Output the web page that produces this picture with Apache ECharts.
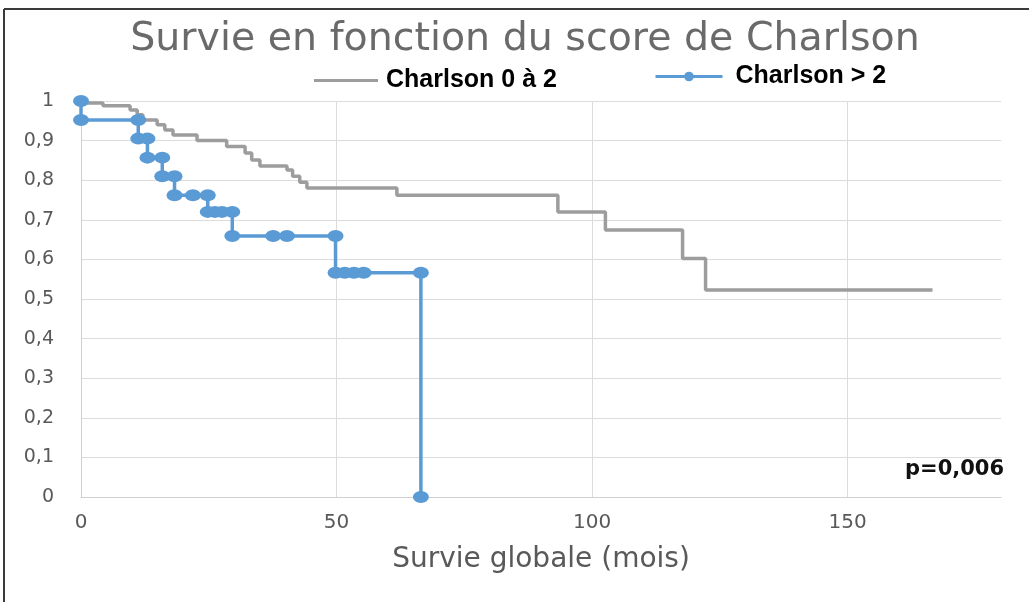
<!DOCTYPE html>
<html>
<head>
<meta charset="utf-8">
<title>Survie en fonction du score de Charlson</title>
<script src="https://cdn.jsdelivr.net/npm/echarts@6/dist/echarts.min.js"></script>
<style>
    html, body { margin: 0; padding: 0; background: #fff; }
    #chart { width: 1029px; height: 602px; }
</style>
</head>
<body>
<div id="chart"></div>
<script>
// Kaplan-Meier, Charlson 0 à 2 (points des marches)
var lowMonths = [0, 4.3, 4.3, 9.6, 9.6, 11, 11, 12.1, 12.1, 14.9, 14.9, 16.4, 16.4, 18, 18, 22.7, 22.7, 28.5, 28.5, 32.1, 32.1, 33.4, 33.4, 35, 35, 40.3, 40.3, 41.4, 41.4, 42.8, 42.8, 44.2, 44.2, 61.8, 61.8, 93.3, 93.3, 102.6, 102.6, 117.7, 117.7, 122.2, 122.2, 166.6];
var lowSurv = [0.995, 0.995, 0.988, 0.988, 0.977, 0.977, 0.965, 0.965, 0.952, 0.952, 0.94, 0.94, 0.927, 0.927, 0.914, 0.914, 0.9, 0.9, 0.885, 0.885, 0.869, 0.869, 0.851, 0.851, 0.836, 0.836, 0.826, 0.826, 0.81, 0.81, 0.795, 0.795, 0.78, 0.78, 0.762, 0.762, 0.72, 0.72, 0.674, 0.674, 0.602, 0.602, 0.523, 0.523];

// Charlson > 2 (marches + censures)
var highMonths = [0, 0, 11.2, 11.2, 13.0, 13.0, 15.9, 15.9, 18.3, 18.3, 21.9, 24.8, 24.8, 26.2, 27.6, 29.6, 29.6, 37.6, 40.3, 49.8, 49.8, 51.6, 53.4, 55.3, 66.5, 66.5];
var highSurv = [1, 0.952, 0.952, 0.905, 0.905, 0.857, 0.857, 0.81, 0.81, 0.762, 0.762, 0.762, 0.72, 0.72, 0.72, 0.72, 0.659, 0.659, 0.659, 0.659, 0.566, 0.566, 0.566, 0.566, 0.566, 0];

var xTicks = [0, 50, 100, 150];
var seriesNames = ['Charlson 0 à 2', 'Charlson > 2'];

function pairs(xs, ys) {
    var out = [];
    for (var i = 0; i < xs.length; i++) out.push([xs[i], ys[i]]);
    return out;
}

var myChart = echarts.init(document.getElementById('chart'));

var legendText = { fontFamily: 'Liberation Sans', fontWeight: 'bold', fontSize: 25, color: '#000' };

var option = {
    animation: false,
    title: {
        text: 'Survie en fonction du score de Charlson',
        left: 520,
        textAlign: 'center',
        top: 15,
        textStyle: { fontFamily: 'DejaVu Sans', fontSize: 39.5, fontWeight: 'normal', color: '#6a6a6a' }
    },
    legend: [
        {
            left: 309, top: 63,
            data: [{ name: seriesNames[0], icon: 'rect' }],
            itemWidth: 64, itemHeight: 3,
            textStyle: Object.assign({ padding: [0, 0, 0, 3] }, legendText)
        },
        {
            left: 649, top: 59,
            data: [seriesNames[1]],
            itemWidth: 67, itemHeight: 12,
            lineStyle: { width: 3 },
            textStyle: Object.assign({ padding: [0, 0, 0, 8] }, legendText)
        }
    ],
    grid: { left: 81, right: 28, top: 101, bottom: 105 },
    xAxis: {
        type: 'value',
        min: 0, max: 180, interval: 50,
        name: 'Survie globale (mois)',
        nameLocation: 'middle',
        nameGap: 49,
        nameTextStyle: { fontFamily: 'DejaVu Sans', fontSize: 28, color: '#595959' },
        axisLine: { lineStyle: { color: '#d0d0d0', width: 1 } },
        axisTick: { show: false },
        axisLabel: {
            fontFamily: 'DejaVu Sans', fontSize: 20, color: '#595959', margin: 16,
            formatter: function (v) { return xTicks.indexOf(v) >= 0 ? String(v) : ''; }
        },
        splitLine: { lineStyle: { color: ['#dcdcdc', '#dcdcdc', '#dcdcdc', '#dcdcdc', 'rgba(0,0,0,0)'] } }
    },
    yAxis: {
        type: 'value',
        min: 0, max: 1, interval: 0.1,
        axisLine: { show: true, lineStyle: { color: '#d0d0d0' } },
        axisTick: { show: false },
        axisLabel: {
            fontFamily: 'DejaVu Sans', fontSize: 19, color: '#595959', margin: 27,
            formatter: function (v) { return String(Math.round(v * 10) / 10).replace('.', ','); }
        },
        splitLine: { lineStyle: { color: '#dcdcdc' } }
    },
    series: [
        {
            name: seriesNames[0],
            type: 'line',
            data: pairs(lowMonths, lowSurv),
            symbol: 'none',
            lineStyle: { color: '#9d9d9d', width: 3.5 },
            itemStyle: { color: '#9d9d9d' },
            z: 2
        },
        {
            name: seriesNames[1],
            type: 'line',
            data: pairs(highMonths, highSurv),
            symbol: 'circle',
            symbolSize: [16, 12],
            showAllSymbol: true,
            lineStyle: { color: '#5b9bd5', width: 3.5 },
            itemStyle: { color: '#5b9bd5' },
            z: 3
        }
    ],
    graphic: [
        { type: 'text', left: 905, top: 459, style: { text: 'p=0,006', fontFamily: 'DejaVu Sans', fontWeight: 'bold', fontSize: 21, fill: '#111' } },
        { type: 'line', shape: { x1: 4, y1: 9, x2: 1029, y2: 9 }, style: { stroke: '#3a3a3a', lineWidth: 2 } },
        { type: 'line', shape: { x1: 4, y1: 9, x2: 4, y2: 602 }, style: { stroke: '#3a3a3a', lineWidth: 2 } }
    ]
};

option && myChart.setOption(option);
</script>
</body>
</html>
